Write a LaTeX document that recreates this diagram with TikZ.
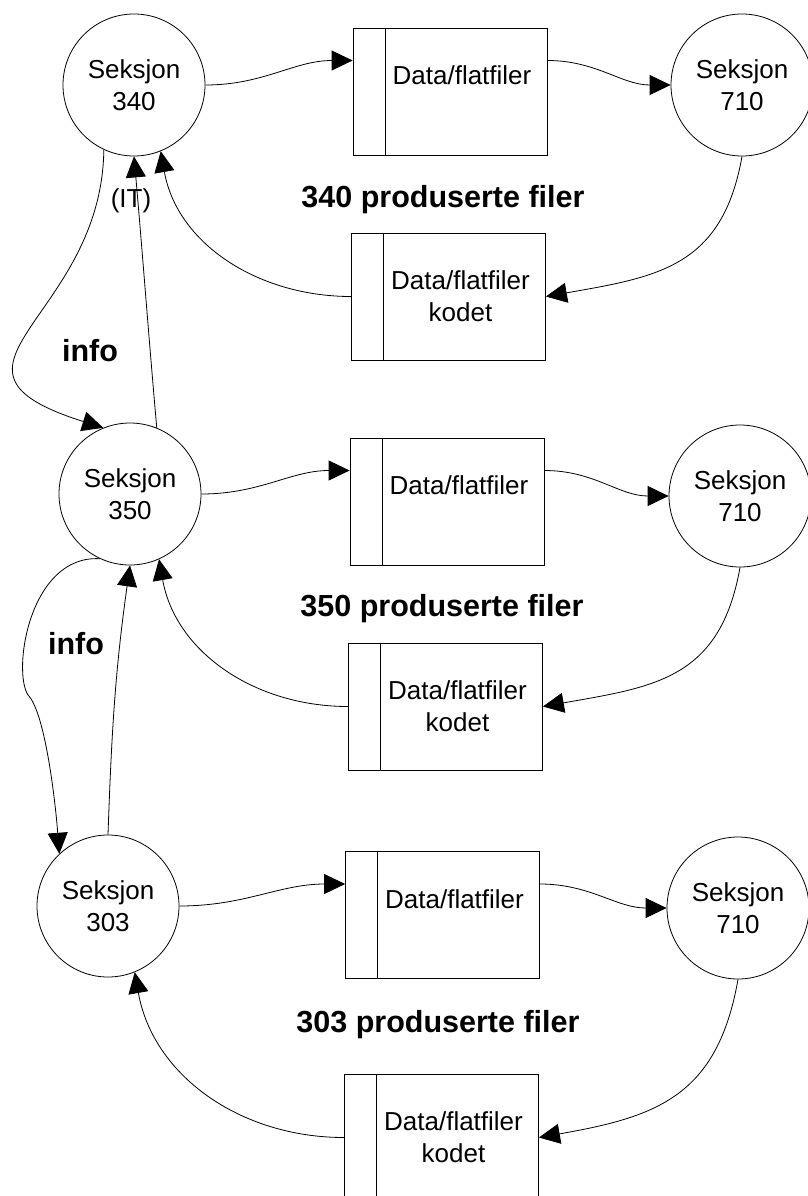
\documentclass[tikz,border=0pt]{standalone}
\usepackage{fontspec}
\setmainfont{Liberation Sans}
\usetikzlibrary{arrows.meta}

\begin{document}
\begin{tikzpicture}[
        x=1pt, y=1pt,
        seksjon/.style = {circle, draw, line width=0.8pt, minimum size=142pt, inner sep=0pt, align=center, font=\fontsize{26}{32}\selectfont},
        store/.style = {rectangle, draw, line width=0.8pt, minimum width=194pt, minimum height=127pt, inner sep=0pt,
            path picture={\draw[line width=0.8pt] ([xshift=32pt]path picture bounding box.north west) -- ([xshift=32pt]path picture bounding box.south west);}},
        storetext/.style = {anchor=north, inner sep=0pt, align=center, font=\fontsize{26}{32}\selectfont},
        boldlabel/.style = {inner sep=0pt, font=\fontsize{30.5}{36}\selectfont\bfseries},
        plainlabel/.style = {inner sep=0pt, font=\fontsize{26}{32}\selectfont},
        line/.style = {draw, line width=0.8pt, -{Triangle[length=21pt,width=20pt]}} % filled arrow tips
    ]
        \useasboundingbox (0,0) rectangle (808,-1196);

        % Nodes
        \node [seksjon] (s340) at (134,-85) {Seksjon\\340};
        \node [seksjon] (s350) at (130,-494) {Seksjon\\350};
        \node [seksjon] (s303) at (108,-906) {Seksjon\\303};
        \node [seksjon] (s710a) at (742,-85) {Seksjon\\710};
        \node [seksjon] (s710b) at (740,-496) {Seksjon\\710};
        \node [seksjon] (s710c) at (738,-908) {Seksjon\\710};

        \node [store] (d340) at (450,-91.5) {};
        \node [store] (k340) at (448.5,-296.5) {};
        \node [store] (d350) at (447,-501.5) {};
        \node [store] (k350) at (445.5,-706.5) {};
        \node [store] (d303) at (442.5,-915) {};
        \node [store] (k303) at (441.5,-1137.5) {};

        \node [storetext] (d340t) at ([xshift=12pt,yshift=-38pt]d340.north) {Data/flatfiler};
        \node [storetext] (k340t) at ([xshift=12pt,yshift=-38pt]k340.north) {Data/flatfiler\\kodet};
        \node [storetext] (d350t) at ([xshift=12pt,yshift=-38pt]d350.north) {Data/flatfiler};
        \node [storetext] (k350t) at ([xshift=12pt,yshift=-38pt]k350.north) {Data/flatfiler\\kodet};
        \node [storetext] (d303t) at ([xshift=12pt,yshift=-38pt]d303.north) {Data/flatfiler};
        \node [storetext] (k303t) at ([xshift=12pt,yshift=-38pt]k303.north) {Data/flatfiler\\kodet};

        % Labels
        \node [boldlabel] (p340) at (443,-200) {340 produserte filer};
        \node [boldlabel] (p350) at (442,-609) {350 produserte filer};
        \node [boldlabel] (p303) at (438,-1025) {303 produserte filer};
        \node [boldlabel] (info1) at (90,-351) {info};
        \node [boldlabel] (info2) at (76,-644) {info};
        \node [plainlabel] (it) at (131,-201) {(IT)};

        % Lines, row 340
        \draw [line] (s340.east) to[out=0, in=180] ([yshift=31pt]d340.west);
        \draw [line] ([yshift=31pt]d340.east) to[out=0, in=180] (s710a.west);
        \draw [line] (s710a.south) to[out=-100, in=10, looseness=1.2] (k340.east);
        \draw [line] (k340.west) to[out=180, in=-80] (s340.-68);
        \draw [line] (s350.68) to[out=95, in=-85] (s340.south);
        \draw [line] (s340.-115) .. controls +(-2,-170) and +(-190,60) .. (s350.112);

        % Lines, row 350
        \draw [line] (s350.east) to[out=0, in=180] ([yshift=31pt]d350.west);
        \draw [line] ([yshift=31pt]d350.east) to[out=0, in=180] (s710b.west);
        \draw [line] (s710b.south) to[out=-100, in=10, looseness=1.2] (k350.east);
        \draw [line] (k350.west) to[out=180, in=-80] (s350.-66);
        \draw [line] (s303.north) to[out=88, in=-98] (s350.south);
        \coordinate (info2bend) at (28,-695);
        \draw [line] (s350.-115) .. controls +(-70,4) and +(-16,25) .. (info2bend)
            .. controls +(17,-17) and +(-4,53) .. (s303.133);

        % Lines, row 303
        \draw [line] (s303.east) to[out=0, in=180] ([yshift=31pt]d303.west);
        \draw [line] ([yshift=31pt]d303.east) to[out=0, in=180] (s710c.west);
        \draw [line] (s710c.south) to[out=-100, in=10, looseness=1.2] (k303.east);
        \draw [line] (k303.west) to[out=180, in=-80] (s303.-68);
\end{tikzpicture}
\end{document}
